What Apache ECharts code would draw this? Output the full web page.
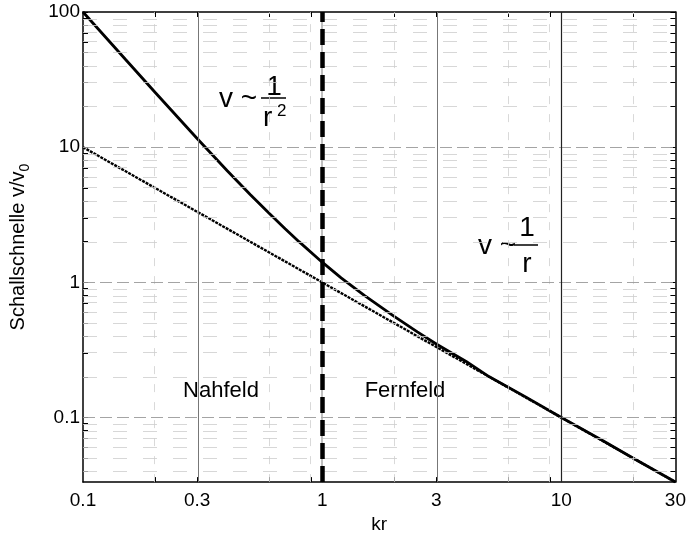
<!DOCTYPE html>
<html>
<head>
<meta charset="utf-8">
<script src="https://cdn.jsdelivr.net/npm/echarts@6/dist/echarts.min.js"></script>
<style>
  html, body { margin: 0; padding: 0; background: #fff; }
  #chart { width: 689px; height: 539px; }
</style>
</head>
<body>
<div id="chart"></div>
<script>
  // kr axis (log) and its labels
  const xTickValues = [0.1, 0.3, 1, 3, 10, 30]
  const xTickLabels = ['0.1', '0.3', '1', '3', '10', '30']
  const xMinorTicks = [0.2, 0.3, 0.6, 0.9, 1, 2, 3, 6, 9, 10, 20]
  const xMajorGrid = [0.3, 3]
  const xMinorGrid = [0.2, 0.6, 0.9, 2, 6, 9, 20]

  // v/v0 axis (log)
  const yTickValues = [0.1, 1, 10, 100]
  const yTickLabels = ['0.1', '1', '10', '100']
  const yMinorTicks = [0.04, 0.05, 0.06, 0.07, 0.08, 0.09,
    0.1, 0.2, 0.3, 0.4, 0.5, 0.6, 0.7, 0.8, 0.9,
    1, 2, 3, 4, 5, 6, 7, 8, 9,
    10, 20, 30, 40, 50, 60, 70, 80, 90, 100]
  const yMajorGrid = [0.1, 1, 10]
  const yMinorGrid = [0.04, 0.05, 0.06, 0.07, 0.08, 0.09,
    0.2, 0.3, 0.4, 0.5, 0.6, 0.7, 0.8, 0.9,
    2, 3, 4, 5, 6, 7, 8, 9,
    20, 30, 40, 50, 60, 70, 80, 90]

  const xMin = 0.1
  const xMax = 30
  const yMin = 0.0333
  const yMax = 100

  // Schallschnelle (durchgezogen)
  const krSolid = [0.1, 0.15, 0.2, 0.3, 0.4, 0.5, 0.6, 0.7, 0.8, 1, 1.2, 1.5, 2, 2.5, 3, 4, 5, 7, 10, 15, 20, 30]
  const vSolid = [100, 44.9, 25.5, 11.6, 6.73, 4.47, 3.24, 2.49, 2.0, 1.41, 1.08, 0.80, 0.56, 0.43, 0.35, 0.26, 0.20, 0.144, 0.100, 0.067, 0.050, 0.0334]

  // 1/kr (gepunktet)
  const krDotted = [0.1, 0.3, 1, 3, 10, 30]
  const vDotted = [10, 3.33, 1, 0.333, 0.1, 0.0333]

  // Grenze Nahfeld / Fernfeld
  const krBoundary = 1

  const lg = Math.log10
  const font = '"Liberation Sans", Arial, Helvetica, sans-serif'

  function pickLabel(values, labels) {
    return function (v) {
      const i = values.findIndex(t => Math.abs(lg(t) - v) < 1e-6)
      return i < 0 ? '' : labels[i]
    }
  }

  const vLine = (vals, style) => vals.map(v => ({ xAxis: lg(v), lineStyle: style }))
  const hLine = (vals, style) => vals.map(v => ({ yAxis: lg(v), lineStyle: style }))

  const frame = { onZero: false, lineStyle: { color: '#000', width: 1.5 } }
  const xTicks = { inside: true, length: 5, customValues: xMinorTicks.map(lg), lineStyle: { color: '#000' } }
  const yTicks = { inside: true, length: 5, customValues: yMinorTicks.map(lg), lineStyle: { color: '#000' } }

  const myChart = echarts.init(document.getElementById('chart'))

  myChart.setOption({
    animation: false,
    grid: { left: 83, right: 11, top: 12, bottom: 51 },
    xAxis: [
      {
        type: 'value',
        min: lg(xMin),
        max: lg(xMax),
        position: 'bottom',
        name: 'kr',
        nameLocation: 'middle',
        nameGap: 26,
        nameTextStyle: { fontSize: 19, color: '#000', fontFamily: font },
        axisLine: frame,
        axisTick: xTicks,
        axisLabel: {
          customValues: xTickValues.map(lg),
          formatter: pickLabel(xTickValues, xTickLabels),
          fontSize: 19, color: '#000', fontFamily: font, margin: 9
        },
        splitLine: { show: false }
      },
      {
        type: 'value',
        min: lg(xMin),
        max: lg(xMax),
        position: 'top',
        axisLine: frame,
        axisTick: xTicks,
        axisLabel: { show: false },
        splitLine: { show: false }
      }
    ],
    yAxis: [
      {
        type: 'value',
        min: lg(yMin),
        max: lg(yMax),
        position: 'left',
        name: '{a|Schallschnelle v/v}{b|0}',
        nameLocation: 'middle',
        nameGap: 51,
        nameTextStyle: {
          rich: {
            a: { fontSize: 20, lineHeight: 28, color: '#000', fontFamily: font },
            b: { fontSize: 14, lineHeight: 28, color: '#000', fontFamily: font, verticalAlign: 'bottom' }
          }
        },
        axisLine: frame,
        axisTick: yTicks,
        axisLabel: {
          customValues: yTickValues.map(lg),
          formatter: pickLabel(yTickValues, yTickLabels),
          fontSize: 19, color: '#000', fontFamily: font, margin: 3
        },
        splitLine: { show: false }
      },
      {
        type: 'value',
        min: lg(yMin),
        max: lg(yMax),
        position: 'right',
        axisLine: frame,
        axisTick: yTicks,
        axisLabel: { show: false },
        splitLine: { show: false }
      }
    ],
    series: [
      {
        name: 'grid',
        type: 'line',
        z: 0,
        silent: true,
        data: [],
        markLine: {
          silent: true,
          symbol: 'none',
          label: { show: false },
          data: [
            ...vLine(xMinorGrid, { color: '#cfcfcf', width: 0.8, type: [8, 10] }),
            ...hLine(yMinorGrid, { color: '#cdcdcd', width: 0.8, type: [14, 16] }),
            ...hLine(yMajorGrid, { color: '#9a9a9a', width: 0.9, type: [12, 5] }),
            ...vLine(xMajorGrid, { color: '#777', width: 1, type: 'solid' }),
            ...vLine([10], { color: '#222', width: 1.2, type: 'solid' }),
            ...vLine([krBoundary], { color: '#aaa', width: 1.5, type: 'solid' })
          ]
        }
      },
      {
        name: '1/kr',
        type: 'line',
        z: 2,
        showSymbol: false,
        lineStyle: { color: '#000', width: 2.4, type: [3, 1] },
        data: krDotted.map((k, i) => [lg(k), lg(vDotted[i])])
      },
      {
        name: 'v/v0',
        type: 'line',
        z: 3,
        showSymbol: false,
        lineStyle: { color: '#000', width: 2.8 },
        data: krSolid.map((k, i) => [lg(k), lg(vSolid[i])])
      },
      {
        name: 'Grenze',
        type: 'line',
        z: 4,
        silent: true,
        data: [],
        markLine: {
          silent: true,
          symbol: 'none',
          label: { show: false },
          lineStyle: { color: '#000', width: 4.5, type: [16, 7] },
          data: [{ xAxis: lg(krBoundary) }]
        }
      }
    ],
    graphic: [
      // v ~ 1/r^2
      { type: 'text', x: 219, y: 99, style: { text: 'v ~', font: '28px ' + font, fill: '#000', align: 'left', verticalAlign: 'middle' } },
      { type: 'line', shape: { x1: 261, y1: 98, x2: 286, y2: 98 }, style: { stroke: '#000', lineWidth: 1.5 } },
      { type: 'text', x: 274, y: 87, style: { text: '1', font: '28px ' + font, fill: '#000', align: 'center', verticalAlign: 'middle' } },
      { type: 'text', x: 263, y: 118, style: { text: 'r', font: '28px ' + font, fill: '#000', align: 'left', verticalAlign: 'middle' } },
      { type: 'text', x: 277, y: 111, style: { text: '2', font: '17px ' + font, fill: '#000', align: 'left', verticalAlign: 'middle' } },
      // v ~ 1/r
      { type: 'text', x: 478, y: 246, style: { text: 'v ~', font: '28px ' + font, fill: '#000', align: 'left', verticalAlign: 'middle' } },
      { type: 'line', shape: { x1: 514, y1: 245, x2: 538, y2: 245 }, style: { stroke: '#000', lineWidth: 1.5 } },
      { type: 'text', x: 527, y: 228, style: { text: '1', font: '28px ' + font, fill: '#000', align: 'center', verticalAlign: 'middle' } },
      { type: 'text', x: 527, y: 264, style: { text: 'r', font: '28px ' + font, fill: '#000', align: 'center', verticalAlign: 'middle' } },
      // Nahfeld / Fernfeld
      { type: 'text', x: 221, y: 391, style: { text: 'Nahfeld', font: '22px ' + font, fill: '#000', align: 'center', verticalAlign: 'middle' } },
      { type: 'text', x: 405, y: 391, style: { text: 'Fernfeld', font: '22px ' + font, fill: '#000', align: 'center', verticalAlign: 'middle' } }
    ]
  })
</script>
</body>
</html>
